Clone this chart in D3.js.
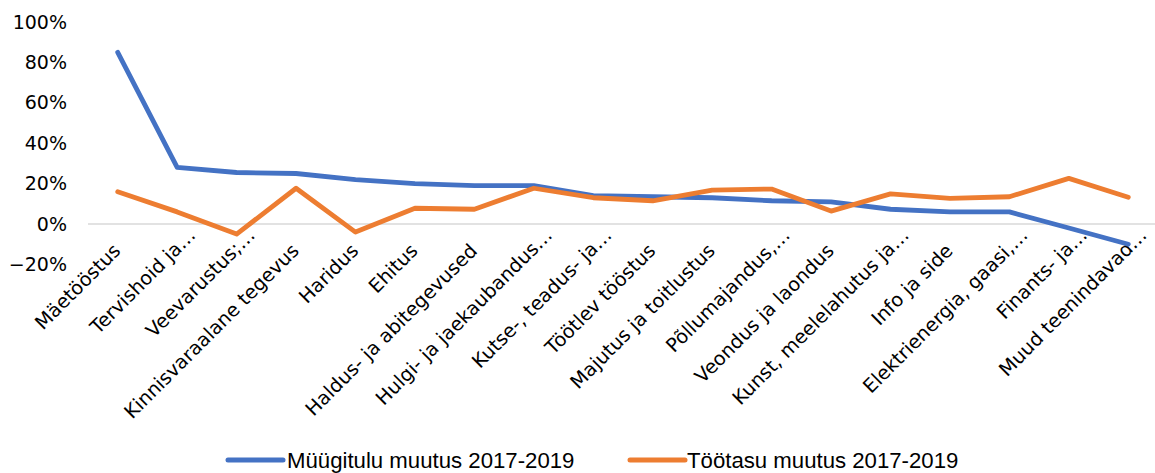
<!DOCTYPE html>
<html>
<head>
<meta charset="utf-8">
<script src="https://cdn.jsdelivr.net/npm/d3@7"></script>
<style>
  body { margin: 0; background: #fff; }
  svg { display: block; }
</style>
</head>
<body>
<div id="chart"></div>
<script>
// categories (labels as they appear, truncated ones end with an ellipsis)
var categories = [
  "Mäetööstus", "Tervishoid ja…", "Veevarustus;…", "Kinnisvaraalane tegevus",
  "Haridus", "Ehitus", "Haldus- ja abitegevused", "Hulgi- ja jaekaubandus…",
  "Kutse-, teadus- ja…", "Töötlev tööstus", "Majutus ja toitlustus", "Põllumajandus,…",
  "Veondus ja laondus", "Kunst, meelelahutus ja…", "Info ja side",
  "Elektrienergia, gaasi,…", "Finants- ja…", "Muud teenindavad…"
];
// Müügitulu muutus 2017-2019
var salesChange = [0.85, 0.28, 0.255, 0.25, 0.22, 0.20, 0.19, 0.19,
  0.14, 0.135, 0.13, 0.115, 0.11, 0.073, 0.06, 0.06, -0.02, -0.10];
// Töötasu muutus 2017-2019
var wageChange = [0.16, 0.06, -0.05, 0.177, -0.04, 0.078, 0.073, 0.177,
  0.13, 0.115, 0.168, 0.173, 0.064, 0.149, 0.127, 0.135, 0.226, 0.132];
var yTicks = [-0.2, 0, 0.2, 0.4, 0.6, 0.8, 1.0];
var seriesNames = ["Müügitulu muutus 2017-2019", "Töötasu muutus 2017-2019"];
var seriesColors = ["#4472C4", "#ED7D31"];

var width = 1155, height = 473;
var plotLeft = 88, plotRight = 1158;

var svg = d3.select("#chart").append("svg")
    .attr("width", width)
    .attr("height", height);

var x = d3.scalePoint()
    .domain(categories)
    .range([plotLeft, plotRight])
    .padding(0.5);

var y = d3.scaleLinear()
    .domain([-0.2, 1.0])
    .range([264.4, 22]);

// y axis labels
var yAxis = svg.append("g")
    .attr("transform", "translate(" + plotLeft + ",0)")
    .call(d3.axisLeft(y).tickValues(yTicks).tickSize(0).tickPadding(21)
        .tickFormat(d3.format(".0%")));
yAxis.select(".domain").remove();
yAxis.selectAll("text")
    .attr("font-family", "DejaVu Sans")
    .attr("font-size", "19px")
    .attr("fill", "#000");

// zero line
svg.append("line")
    .attr("x1", plotLeft)
    .attr("x2", width)
    .attr("y1", y(0))
    .attr("y2", y(0))
    .attr("stroke", "#d9d9d9")
    .attr("stroke-width", 1.5);

// x labels, rotated
svg.append("g").selectAll("text")
    .data(categories)
    .enter().append("text")
    .attr("transform", function(d) { return "translate(" + (x(d) + 4) + ",252) rotate(-45)"; })
    .attr("dx", function(d) { return d.slice(-1) == "…" ? 22 : 0; })
    .attr("text-anchor", "end")
    .attr("font-family", "DejaVu Sans")
    .attr("font-size", "19.3px")
    .attr("fill", "#000")
    .text(function(d) { return d; });

// lines
var line = d3.line()
    .x(function(d, i) { return x(categories[i]); })
    .y(function(d) { return y(d); });

[salesChange, wageChange].forEach(function(s, i) {
  svg.append("path")
      .attr("d", line(s))
      .attr("fill", "none")
      .attr("stroke", seriesColors[i])
      .attr("stroke-width", 4.8)
      .attr("stroke-linejoin", "round")
      .attr("stroke-linecap", "round");
});

// legend
var legendX = [228, 630];
var legend = svg.append("g").selectAll("g")
    .data(seriesNames)
    .enter().append("g")
    .attr("transform", function(d, i) { return "translate(" + legendX[i] + ",460)"; });
legend.append("line")
    .attr("x1", 0).attr("x2", 55)
    .attr("stroke", function(d, i) { return seriesColors[i]; })
    .attr("stroke-width", 5)
    .attr("stroke-linecap", "round");
legend.append("text")
    .attr("x", function(d, i) { return i ? 57 : 59; })
    .attr("dy", "0.35em")
    .attr("font-family", "Liberation Sans")
    .attr("font-size", "22.2px")
    .attr("fill", "#000")
    .text(function(d) { return d; });
</script>
</body>
</html>
